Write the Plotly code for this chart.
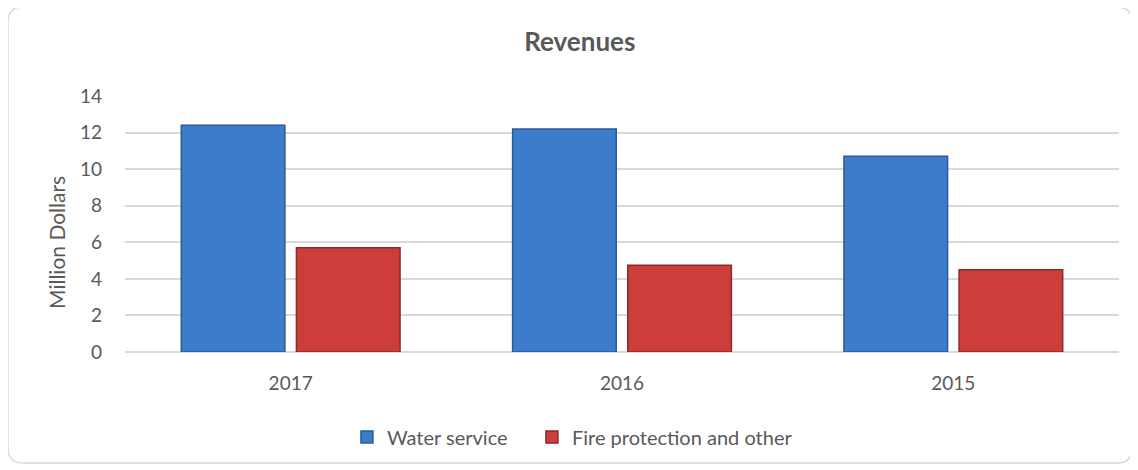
import plotly.graph_objects as go

years = ["2017", "2016", "2015"]
water_service = [12.4, 12.2, 10.7]
fire_protection = [5.7, 4.75, 4.5]
y_ticks = [0, 2, 4, 6, 8, 10, 12, 14]

FONT = "Lato"
TEXT = "#595959"
GRID = "#D9D9D9"

fig = go.Figure()
fig.add_trace(go.Bar(
    x=years, y=water_service, name="Water service", legend="legend",
    marker=dict(color="#3D7CCB", line=dict(color="#2A5B97", width=1.5)),
))
fig.add_trace(go.Bar(
    x=years, y=fire_protection, name="Fire protection and other", legend="legend2",
    marker=dict(color="#CC3D3B", line=dict(color="#8E2A28", width=1.5)),
))

legend_style = dict(orientation="h", xanchor="left", y=-0.332, yanchor="middle",
                    font=dict(size=20, color=TEXT), itemwidth=30)

# page body has an 8px margin, so the figure is 16px smaller than the window
fig.update_layout(
    width=1130, height=462,
    margin=dict(l=117, r=19, t=88, b=118),
    paper_bgcolor="white", plot_bgcolor="white",
    font=dict(family=FONT, color=TEXT, size=19),
    title=dict(text="<b>Revenues</b>", x=0.506, xref="container", xanchor="center",
               y=0.926, yref="container", yanchor="middle",
               font=dict(size=26, color=TEXT)),
    barmode="group", bargap=0.305, bargroupgap=0.1,
    showlegend=True,
    legend=dict(x=0.2233, **legend_style),
    legend2=dict(x=0.4094, **legend_style),
    shapes=[dict(
        type="path", xref="paper", yref="paper",
        xsizemode="pixel", ysizemode="pixel", xanchor=0, yanchor=0,
        path="M -102,345 L 992,345 Q 1007,345 1007,330 L 1007,-96 Q 1007,-111 992,-111 "
             "L -102,-111 Q -117,-111 -117,-96 L -117,330 Q -117,345 -102,345 Z",
        line=dict(color="#D9D9D9", width=1.5), layer="below",
    )],
    annotations=[dict(
        text="Million Dollars", textangle=-90, showarrow=False,
        xref="paper", yref="paper", x=-0.0684, y=0.426,
        xanchor="center", yanchor="middle",
        font=dict(size=21, color=TEXT),
    )],
)
fig.update_yaxes(
    range=[0, 14], tickvals=y_ticks, showgrid=True, gridcolor=GRID, gridwidth=1.5,
    zeroline=True, zerolinecolor=GRID, zerolinewidth=1.5,
    ticklabelstandoff=22, tickfont=dict(size=19),
)
fig.update_xaxes(showgrid=False, ticklabelstandoff=18, tickfont=dict(size=19))

fig.write_html("out.html")
